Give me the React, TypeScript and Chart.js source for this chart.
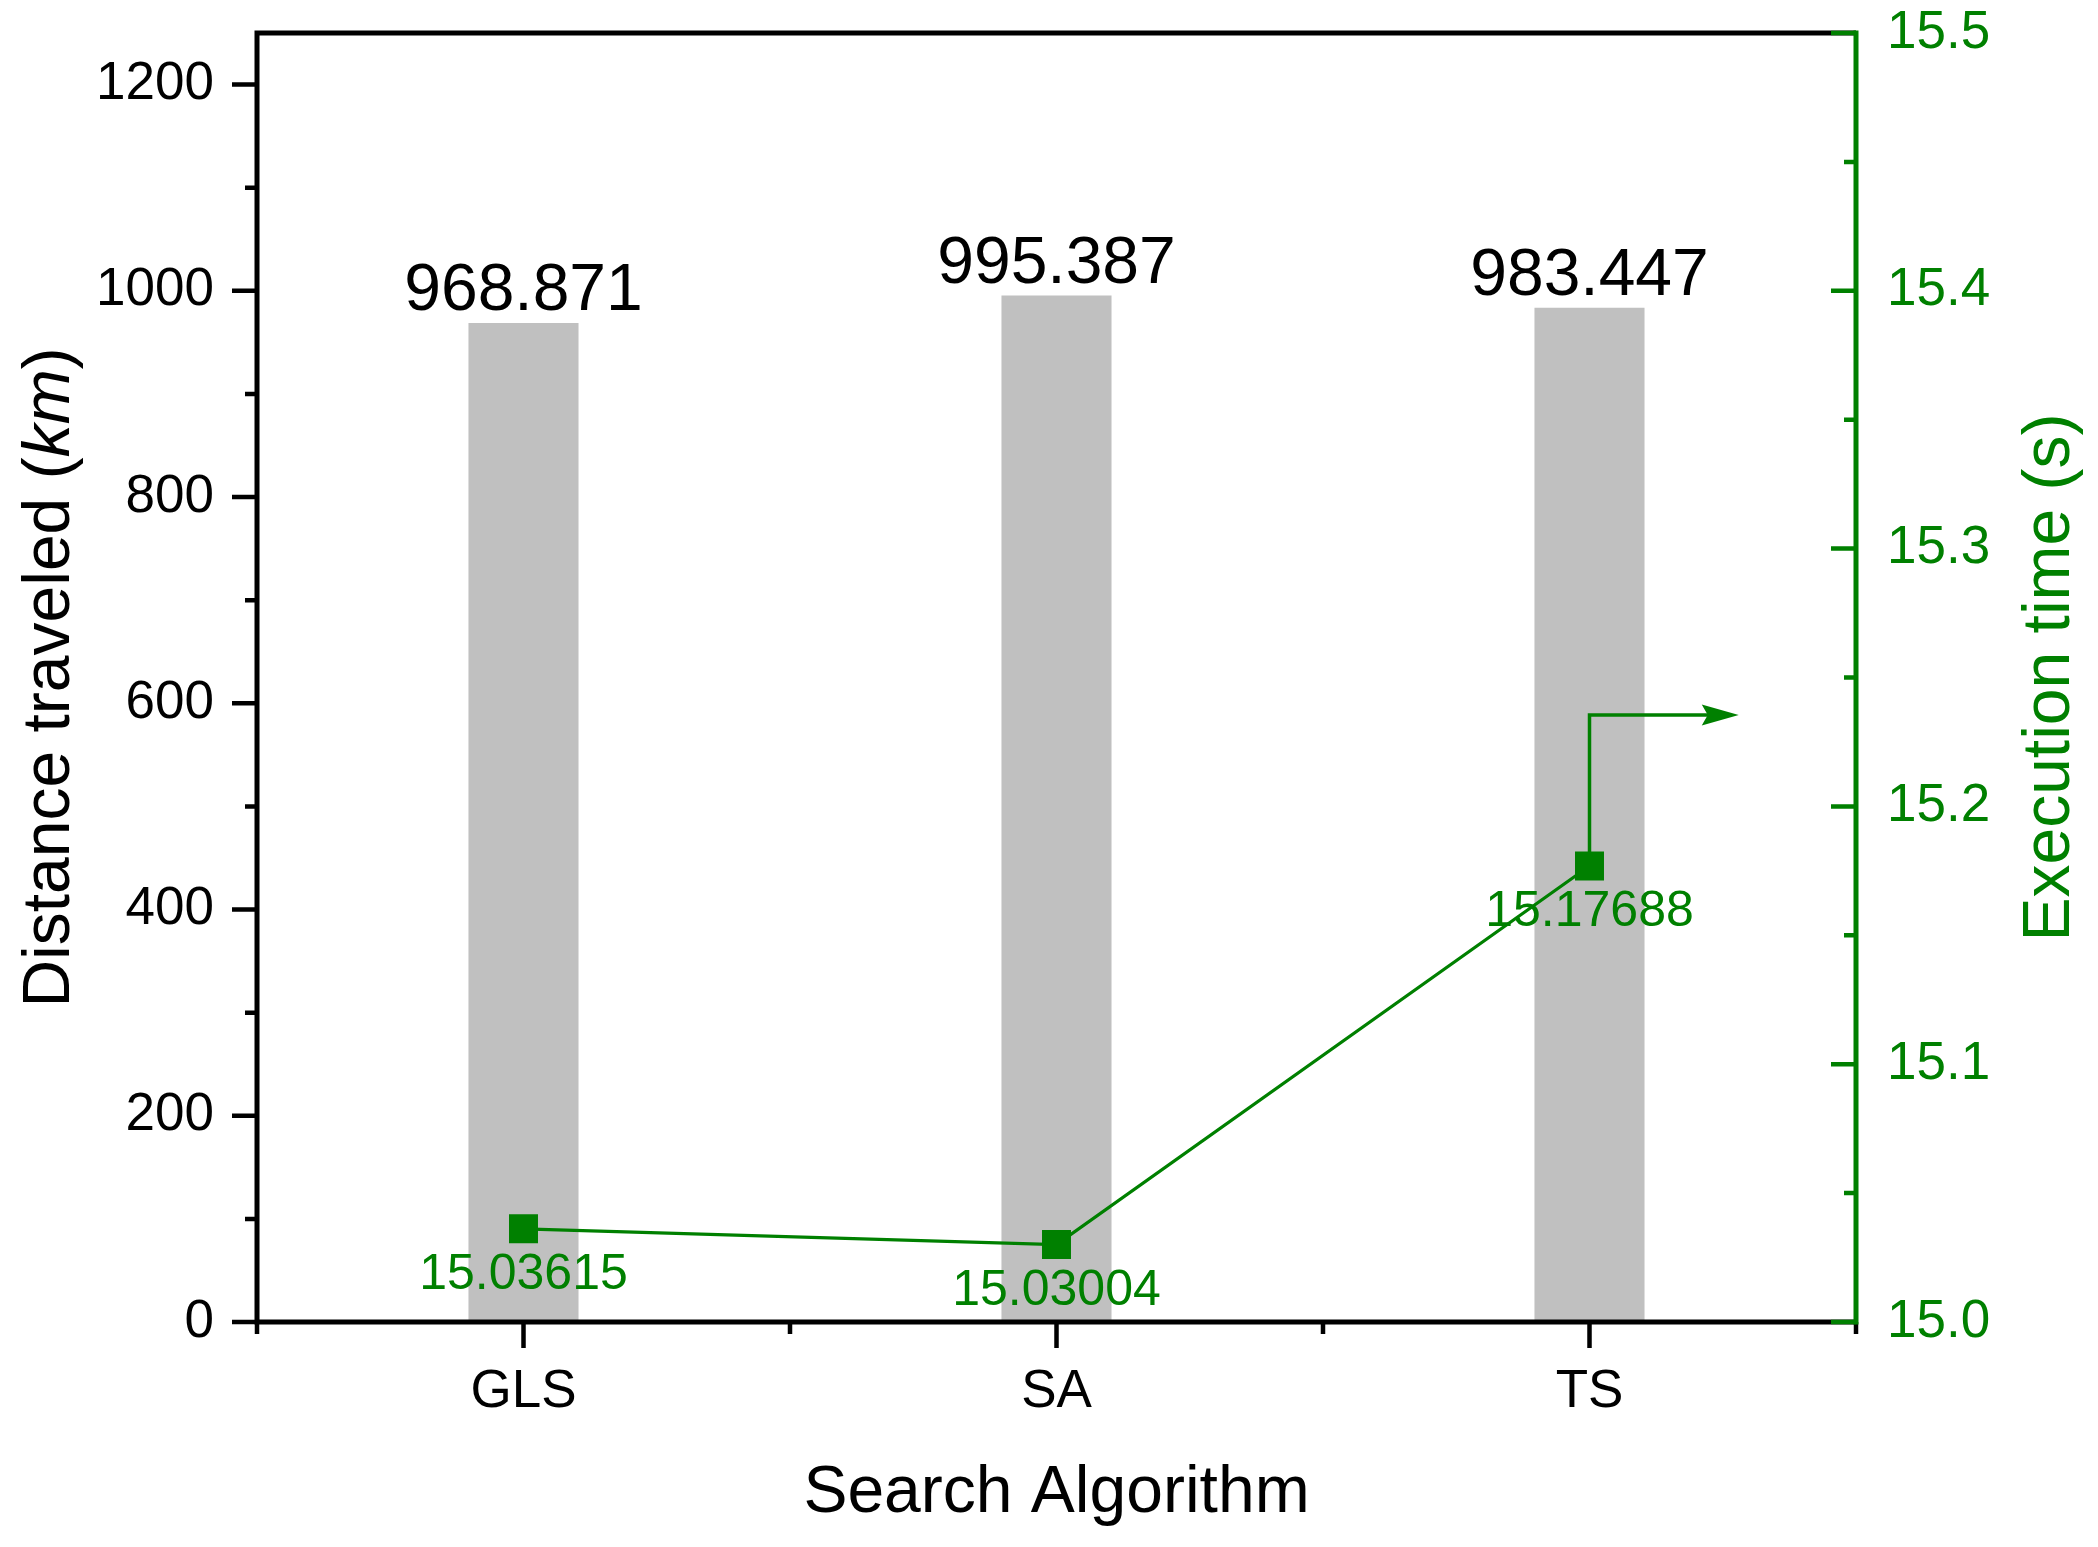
import React, { useEffect, useRef } from 'react';
import { Chart, registerables } from 'chart.js';

Chart.register(...registerables);

// ---------- data ----------
const categories = ['GLS', 'SA', 'TS'];
const distanceKm = [968.871, 995.387, 983.447];
const distanceLabels = ['968.871', '995.387', '983.447'];
const executionTimeS = [15.03615, 15.03004, 15.17688];
const timeLabels = ['15.03615', '15.03004', '15.17688'];
const distanceTicks = [0, 200, 400, 600, 800, 1000, 1200];
const distanceMinorTicks = [100, 300, 500, 700, 900, 1100];
const timeTicks = [15.0, 15.1, 15.2, 15.3, 15.4, 15.5];
const timeMinorTicks = [15.05, 15.15, 15.25, 15.35, 15.45];
const distanceRange = [0, 1250];
const timeRange = [15.0, 15.5];
// axis-indicator arrow (belongs to the time series, points to right axis)
const arrowTurnValue = 15.2355;
const arrowReach = 0.28; // in category units beyond TS

const GREEN = '#008000';
const GREY = '#C0C0C0';
const FONT = '"Liberation Sans", Arial, Helvetica, sans-serif';

const W = 2098;
const H = 1547;

const decorPlugin = {
  id: 'decor',
  afterDatasetDraw(chart: any, args: any) {
    if (args.index !== 0) return;
    const { ctx, scales } = chart;
    const x = scales.x;
    const y = scales.y;
    const y1 = scales.y1;
    ctx.save();
    // bar value labels
    ctx.font = `66px ${FONT}`;
    ctx.fillStyle = '#000';
    ctx.textAlign = 'center';
    ctx.textBaseline = 'alphabetic';
    distanceKm.forEach((v, i) => {
      ctx.fillText(distanceLabels[i], x.getPixelForValue(i), y.getPixelForValue(v) - 13);
    });
    // point value labels
    ctx.font = `50px ${FONT}`;
    ctx.fillStyle = GREEN;
    executionTimeS.forEach((v, i) => {
      ctx.fillText(timeLabels[i], x.getPixelForValue(i), y1.getPixelForValue(v) + 60);
    });
    ctx.restore();
  },
  afterDraw(chart: any) {
    const { ctx, chartArea: a, scales } = chart;
    const x = scales.x;
    const y = scales.y;
    const y1 = scales.y1;
    const LW = 5;
    const TW = 4.5;
    const MAJ = 25;
    const MIN = 12;
    ctx.save();
    ctx.lineCap = 'butt';

    // arrow indicator
    const tsX = x.getPixelForValue(2);
    const tsY = y1.getPixelForValue(executionTimeS[2]);
    const turnY = y1.getPixelForValue(arrowTurnValue);
    const endX = x.getPixelForValue(2 + arrowReach);
    ctx.strokeStyle = GREEN;
    ctx.fillStyle = GREEN;
    ctx.lineWidth = 3.5;
    ctx.beginPath();
    ctx.moveTo(tsX, tsY - 14);
    ctx.lineTo(tsX, turnY);
    ctx.lineTo(endX - 30, turnY);
    ctx.stroke();
    ctx.beginPath();
    ctx.moveTo(endX, turnY);
    ctx.lineTo(endX - 37, turnY - 10.5);
    ctx.lineTo(endX - 31, turnY);
    ctx.lineTo(endX - 37, turnY + 10.5);
    ctx.closePath();
    ctx.fill();

    // frame: left, bottom, top (black)
    ctx.strokeStyle = '#000';
    ctx.lineWidth = LW;
    ctx.beginPath();
    ctx.moveTo(a.left, a.top - LW / 2);
    ctx.lineTo(a.left, a.bottom + LW / 2);
    ctx.moveTo(a.left - LW / 2, a.bottom);
    ctx.lineTo(a.right, a.bottom);
    ctx.moveTo(a.left - LW / 2, a.top);
    ctx.lineTo(a.right, a.top);
    ctx.stroke();

    // left ticks
    ctx.lineWidth = TW;
    ctx.beginPath();
    distanceTicks.forEach((v) => {
      const p = y.getPixelForValue(v);
      ctx.moveTo(a.left - MAJ, p);
      ctx.lineTo(a.left, p);
    });
    distanceMinorTicks.forEach((v) => {
      const p = y.getPixelForValue(v);
      ctx.moveTo(a.left - MIN, p);
      ctx.lineTo(a.left, p);
    });
    // bottom ticks
    categories.forEach((_, i) => {
      const p = x.getPixelForValue(i);
      ctx.moveTo(p, a.bottom);
      ctx.lineTo(p, a.bottom + MAJ + 1);
    });
    for (let i = 0; i <= categories.length; i++) {
      const p = x.getPixelForValue(i - 0.5);
      ctx.moveTo(p, a.bottom);
      ctx.lineTo(p, a.bottom + MIN);
    }
    ctx.stroke();

    // right axis (green)
    ctx.strokeStyle = GREEN;
    ctx.lineWidth = LW;
    ctx.beginPath();
    ctx.moveTo(a.right, a.top - LW / 2);
    ctx.lineTo(a.right, a.bottom + LW / 2);
    ctx.stroke();
    ctx.lineWidth = TW;
    ctx.beginPath();
    timeTicks.forEach((v) => {
      const p = y1.getPixelForValue(v);
      ctx.moveTo(a.right - MAJ, p);
      ctx.lineTo(a.right, p);
    });
    timeMinorTicks.forEach((v) => {
      const p = y1.getPixelForValue(v);
      ctx.moveTo(a.right - MIN, p);
      ctx.lineTo(a.right, p);
    });
    ctx.stroke();

    // axis titles
    ctx.textAlign = 'center';
    ctx.textBaseline = 'alphabetic';
    const cy = (a.top + a.bottom) / 2;
    // left title with italic km
    ctx.save();
    ctx.translate(45, cy);
    ctx.rotate(-Math.PI / 2);
    ctx.fillStyle = '#000';
    const parts = [
      { t: 'Distance traveled (', f: `66px ${FONT}` },
      { t: 'km', f: `italic 66px ${FONT}` },
      { t: ')', f: `66px ${FONT}` },
    ];
    let total = 0;
    parts.forEach((p) => {
      ctx.font = p.f;
      total += ctx.measureText(p.t).width;
    });
    let cx = -total / 2;
    ctx.textAlign = 'left';
    parts.forEach((p) => {
      ctx.font = p.f;
      ctx.fillText(p.t, cx, 23.6);
      cx += ctx.measureText(p.t).width;
    });
    ctx.restore();

    // right title
    ctx.save();
    ctx.translate(2045, cy);
    ctx.rotate(-Math.PI / 2);
    ctx.fillStyle = GREEN;
    ctx.font = `66px ${FONT}`;
    ctx.textAlign = 'center';
    ctx.fillText('Execution time (s)', 0, 23.6);
    ctx.restore();

    // x title
    ctx.fillStyle = '#000';
    ctx.font = `66px ${FONT}`;
    ctx.textAlign = 'center';
    ctx.fillText('Search Algorithm', (a.left + a.right) / 2, 1488 + 23.6);

    ctx.restore();
  },
};

export default function App() {
  const ref = useRef<HTMLCanvasElement | null>(null);

  useEffect(() => {
    document.body.style.margin = '0';
    const canvas = ref.current;
    if (!canvas) return;
    const chart = new Chart(canvas, {
      type: 'bar',
      data: {
        labels: categories,
        datasets: [
          {
            type: 'bar',
            label: 'Distance traveled (km)',
            data: distanceKm,
            backgroundColor: GREY,
            borderWidth: 0,
            barPercentage: 0.2065,
            categoryPercentage: 1,
            yAxisID: 'y',
            order: 1,
          },
          {
            type: 'line',
            label: 'Execution time (s)',
            data: executionTimeS,
            borderColor: GREEN,
            borderWidth: 3.2,
            backgroundColor: GREEN,
            pointStyle: 'rect',
            pointRadius: 20.5,
            pointBorderWidth: 0,
            pointBackgroundColor: GREEN,
            tension: 0,
            yAxisID: 'y1',
            order: 0,
          } as any,
        ],
      },
      options: {
        responsive: false,
        maintainAspectRatio: false,
        devicePixelRatio: 1,
        animation: false,
        layout: { padding: { top: 33, left: 0, right: 0, bottom: 0 } },
        plugins: {
          legend: { display: false },
          tooltip: { enabled: false },
          title: { display: false },
        },
        scales: {
          x: {
            type: 'category',
            offset: true,
            grid: { display: false, drawTicks: false, offset: true },
            border: { display: false },
            ticks: {
              color: '#000',
              font: { family: FONT, size: 53 },
              padding: 39,
              maxRotation: 0,
              autoSkip: false,
            },
            afterFit: (s: any) => {
              s.height = 225;
              s.paddingLeft = 0;
              s.paddingRight = 0;
            },
          },
          y: {
            type: 'linear',
            position: 'left',
            min: distanceRange[0],
            max: distanceRange[1],
            grid: { display: false, drawTicks: false },
            border: { display: false },
            ticks: {
              color: '#000',
              font: { family: FONT, size: 53 },
              padding: 43,
              callback: (v: any) => String(v),
            },
            afterBuildTicks: (s: any) => {
              s.ticks = distanceTicks.map((v) => ({ value: v }));
            },
            afterFit: (s: any) => {
              s.width = 257;
              s.paddingTop = 0;
              s.paddingBottom = 0;
            },
          },
          y1: {
            type: 'linear',
            position: 'right',
            min: timeRange[0],
            max: timeRange[1],
            grid: { display: false, drawTicks: false },
            border: { display: false },
            ticks: {
              color: GREEN,
              font: { family: FONT, size: 53 },
              padding: 31,
              callback: (v: any) => Number(v).toFixed(1),
            },
            afterBuildTicks: (s: any) => {
              s.ticks = timeTicks.map((v) => ({ value: v }));
            },
            afterFit: (s: any) => {
              s.width = 242;
              s.paddingTop = 0;
              s.paddingBottom = 0;
            },
          },
        },
      } as any,
      plugins: [decorPlugin],
    });
    return () => chart.destroy();
  }, []);

  return (
    <div style={{ width: W, height: H, background: '#fff' }}>
      <canvas ref={ref} width={W} height={H} style={{ display: 'block', width: W, height: H }} />
    </div>
  );
}
